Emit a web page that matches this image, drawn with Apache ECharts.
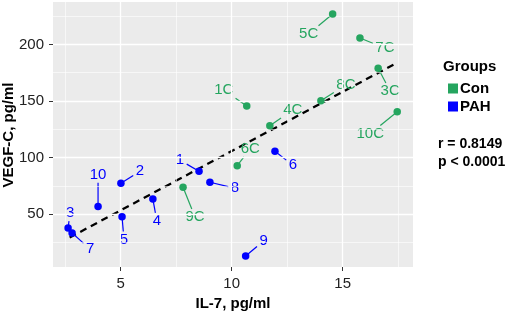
<!DOCTYPE html>
<html>
<head>
<meta charset="utf-8">
<script src="https://cdn.jsdelivr.net/npm/echarts@6/dist/echarts.min.js"></script>
<style>
html,body{margin:0;padding:0;background:#fff;}
#chart{width:510px;height:315px;}
</style>
</head>
<body>
<div id="chart"></div>
<script>
// ---- data ----
const conLabels = ['1C','3C','4C','5C','6C','7C','8C','9C','10C'];
const conX = [10.68, 16.6, 11.72, 14.55, 10.25, 15.78, 14.02, 7.81, 17.46];
const conY = [145.6, 178.9, 128.2, 226.8, 92.9, 205.6, 150.3, 73.9, 140.6];

const pahLabels = ['1','2','3','4','5','6','7','8','9','10'];
const pahX = [8.53, 5.01, 2.63, 6.45, 5.06, 11.95, 2.81, 9.02, 10.63, 3.98];
const pahY = [88.0, 77.4, 38.0, 63.5, 47.9, 105.6, 33.5, 78.3, 13.2, 56.8];

const trendX = [2.7, 17.46];
const trendY = [29.5, 183.8];

const xTicks = [5, 10, 15];
const yTicks = [50, 100, 150, 200];
const xMinor = [2.5, 7.5, 12.5, 17.5];
const yMinor = [25, 75, 125, 175, 225];

const xTitle = 'IL-7, pg/ml';
const yTitle = 'VEGF-C, pg/ml';
const statsText = ['r = 0.8149', 'p < 0.0001'];

// ---- label offsets (pixels, layout only) ----
const conLabelOffsets = [[-23,-16],[12,23],[23,-16],[-24,20],[13,-17],[25,10],[25,-16],[12,30],[-27,22]];
const pahLabelOffsets = [[-19,-11],[19,-12],[2,-15],[4,22],[2,23],[18,14],[18,16],[25,6],[18,-15],[0,-32]];

const GREEN = '#25A55F';
const BLUE = '#0000FF';
const FONT = '"Liberation Sans", Arial, sans-serif';
const LABEL_SIZE = 15;

const measureCtx = document.createElement('canvas').getContext('2d');
measureCtx.font = LABEL_SIZE + 'px ' + FONT;

function pts(xs, ys, names) {
  return xs.map((x, i) => ({ value: [x, ys[i]], name: names[i] }));
}

const chart = echarts.init(document.getElementById('chart'), null, {renderer: 'canvas'});

const gridLineData = [];
xTicks.forEach(v => gridLineData.push({xAxis: v, lineStyle: {width: 1.3}}));
yTicks.forEach(v => gridLineData.push({yAxis: v, lineStyle: {width: 1.3}}));
xMinor.forEach(v => gridLineData.push({xAxis: v, lineStyle: {width: 0.6}}));
yMinor.forEach(v => gridLineData.push({yAxis: v, lineStyle: {width: 0.6}}));

function scatterSeries(name, color, xs, ys, names) {
  return {
    name: name,
    type: 'scatter',
    z: 5,
    symbol: 'circle',
    symbolSize: 7.5,
    itemStyle: {color: color, opacity: 1},
    data: pts(xs, ys, names),
    emphasis: {disabled: true}
  };
}

function labelSeries(color, xs, ys, names, offsets) {
  return {
    type: 'custom',
    z: 4,
    silent: true,
    encode: {x: 0, y: 1},
    data: xs.map((x, i) => [x, ys[i]]),
    renderItem: function (params, api) {
      const i = params.dataIndex;
      const p = api.coord([api.value(0), api.value(1)]);
      const o = offsets[i];
      const c = [p[0] + o[0], p[1] + o[1]];
      const txt = names[i];
      const w = measureCtx.measureText(txt).width;
      const hw = w / 2 + 2.5, hh = LABEL_SIZE * 0.38 + 2.5;
      const dx = p[0] - c[0], dy = p[1] - c[1];
      let s = Math.min(dx !== 0 ? hw / Math.abs(dx) : Infinity, dy !== 0 ? hh / Math.abs(dy) : Infinity);
      const children = [];
      if (s < 1) {
        const e = [c[0] + dx * s, c[1] + dy * s];
        children.push({
          type: 'line',
          shape: {x1: p[0], y1: p[1], x2: e[0], y2: e[1]},
          style: {stroke: color, lineWidth: 1.2}
        });
      }
      children.push({
        type: 'text',
        x: c[0], y: c[1],
        style: {text: txt, fill: color, fontSize: LABEL_SIZE, fontFamily: FONT, align: 'center', verticalAlign: 'middle'}
      });
      return {type: 'group', children: children};
    }
  };
}

const option = {
  animation: false,
  backgroundColor: '#ffffff',
  textStyle: {fontFamily: FONT},
  grid: {
    left: 53, right: 97, top: 2, bottom: 48,
    containLabel: false,
    outerBoundsMode: 'none',
    show: true, backgroundColor: '#EBEBEB', borderWidth: 0
  },
  xAxis: {
    type: 'value',
    min: 1.95, max: 18.17,
    axisLine: {show: false},
    splitLine: {show: false},
    axisTick: {show: true, customValues: xTicks, length: 4, lineStyle: {color: '#333', width: 1}},
    axisLabel: {customValues: xTicks, fontSize: 15, color: '#222', margin: 9}
  },
  yAxis: {
    type: 'value',
    min: 3.5, max: 237.4,
    axisLine: {show: false},
    splitLine: {show: false},
    axisTick: {show: true, customValues: yTicks, length: 4, lineStyle: {color: '#333', width: 1}},
    axisLabel: {customValues: yTicks, fontSize: 15, color: '#222', margin: 9}
  },
  legend: {
    orient: 'vertical',
    left: 443, top: 76,
    itemWidth: 10, itemHeight: 10,
    itemGap: 3,
    icon: 'rect',
    data: ['Con', 'PAH'],
    textStyle: {fontSize: 15, fontWeight: 'bold', color: '#000', padding: [0,0,0,-3]},
    selectedMode: false
  },
  graphic: [
    {type: 'text', x: 233, y: 304, style: {text: xTitle, font: 'bold 15px ' + FONT, fill: '#000', align: 'center', verticalAlign: 'middle'}},
    {type: 'text', x: 9, y: 135, rotation: Math.PI / 2, style: {text: yTitle, font: 'bold 15px ' + FONT, fill: '#000', align: 'center', verticalAlign: 'middle'}},
    {type: 'text', left: 443, top: 59, style: {text: 'Groups', font: 'bold 15px ' + FONT, fill: '#000'}},
    {type: 'text', left: 438, top: 137, style: {text: statsText[0], font: 'bold 14px ' + FONT, fill: '#000'}},
    {type: 'text', left: 438, top: 155, style: {text: statsText[1], font: 'bold 14px ' + FONT, fill: '#000'}}
  ],
  series: [
    {
      name: 'grid',
      type: 'line',
      data: [],
      z: 1,
      silent: true,
      markLine: {
        silent: true,
        symbol: ['none', 'none'],
        label: {show: false},
        lineStyle: {color: '#ffffff', type: 'solid'},
        data: gridLineData,
        animation: false
      }
    },
    {
      name: 'trend',
      type: 'line',
      z: 3,
      silent: true,
      symbol: 'none',
      data: trendX.map((x, i) => [x, trendY[i]]),
      lineStyle: {color: '#000', width: 2.3, type: [7, 5]}
    },
    labelSeries(GREEN, conX, conY, conLabels, conLabelOffsets),
    labelSeries(BLUE, pahX, pahY, pahLabels, pahLabelOffsets),
    scatterSeries('Con', GREEN, conX, conY, conLabels),
    scatterSeries('PAH', BLUE, pahX, pahY, pahLabels)
  ]
};

chart.setOption(option);
</script>
</body>
</html>
